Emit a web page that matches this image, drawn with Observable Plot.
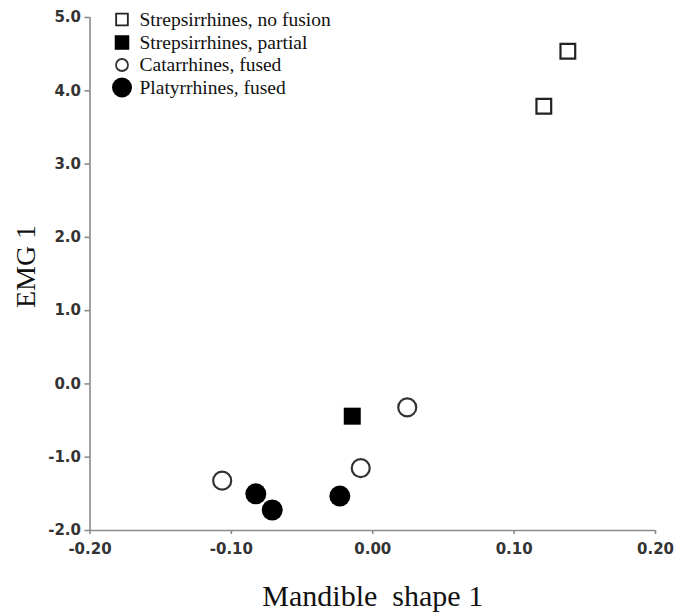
<!DOCTYPE html>
<html><head><meta charset="utf-8">
<script src="https://cdn.jsdelivr.net/npm/d3@7"></script>
<script src="https://cdn.jsdelivr.net/npm/@observablehq/plot@0.6"></script>
<style>
html,body{margin:0;padding:0;background:#fff;}
svg text{white-space:pre;}
</style>
</head><body><div id="chart"></div>
<script>
// ---- data ----
const groups = ["Strepsirrhines, no fusion", "Strepsirrhines, partial", "Catarrhines, fused", "Platyrrhines, fused"];
const mandibleShape = [0.138, 0.121, -0.0145, 0.0244, -0.0085, -0.1065, -0.0827, -0.0711, -0.0233];
const emg1 = [4.54, 3.79, -0.44, -0.32, -1.15, -1.32, -1.50, -1.72, -1.53];
const groupIndex = [0, 0, 1, 2, 2, 2, 3, 3, 3];
const xTicks = [-0.2, -0.1, 0, 0.1, 0.2];
const yTicks = [-2, -1, 0, 1, 2, 3, 4, 5];
const xTitle = "Mandible  shape 1";
const yTitle = "EMG 1";

// ---- styles ----
const dotStyle = [
  {symbol: "square", fill: "white", stroke: "#222", strokeWidth: 2.2, r: 8.3},
  {symbol: "square", fill: "black", stroke: "none", strokeWidth: 0, r: 9.6},
  {symbol: "circle", fill: "white", stroke: "#333", strokeWidth: 2.2, r: 9},
  {symbol: "circle", fill: "black", stroke: "none", strokeWidth: 0, r: 10.5}
];
const legendStyle = [
  {symbol: "square", fill: "white", stroke: "#222", strokeWidth: 1.8, r: 6.6},
  {symbol: "square", fill: "black", stroke: "none", strokeWidth: 0, r: 8.2},
  {symbol: "circle", fill: "white", stroke: "#333", strokeWidth: 1.8, r: 6},
  {symbol: "circle", fill: "black", stroke: "none", strokeWidth: 0, r: 10}
];
const legendRowY = [2, 25, 47.5, 70]; // offsets from frame top
const serif = "'Liberation Serif', 'Times New Roman', serif";
const sans = "'DejaVu Sans', Verdana, sans-serif";

const points = mandibleShape.map((x, i) => ({x, y: emg1[i], g: groupIndex[i]}));

const marks = [
  Plot.ruleY([-2], {stroke: "#8a8a8a", strokeWidth: 1.6}),
  Plot.ruleX([-0.2], {stroke: "#8a8a8a", strokeWidth: 1.6}),
  Plot.axisX(xTicks, {tickSize: 4, tickPadding: 9, tickFormat: d => d.toFixed(2), label: null,
    stroke: "#8a8a8a", strokeWidth: 1.6, fill: "#333", fontSize: 15, fontWeight: "bold", fontFamily: sans}),
  Plot.axisY(yTicks, {tickSize: 5, tickPadding: 4, tickFormat: d => d.toFixed(1), label: null,
    stroke: "#8a8a8a", strokeWidth: 1.6, fill: "#333", fontSize: 15, fontWeight: "bold", fontFamily: sans}),
  Plot.text([xTitle], {frameAnchor: "bottom", dy: 65.5, textAnchor: "middle", lineAnchor: "middle", fontFamily: serif, fontSize: 30, fill: "#111"}),
  Plot.text([yTitle], {frameAnchor: "left", rotate: -90, dx: -63.5, dy: -7.5, textAnchor: "middle", lineAnchor: "middle", fontFamily: serif, fontSize: 28, fill: "#111"})
];

dotStyle.forEach((s, gi) => {
  marks.push(Plot.dot(points.filter(p => p.g === gi), {x: "x", y: "y", symbol: s.symbol, r: s.r, fill: s.fill, stroke: s.stroke, strokeWidth: s.strokeWidth}));
});

groups.forEach((name, gi) => {
  const s = legendStyle[gi];
  marks.push(Plot.dot([name], {frameAnchor: "top-left", dx: 32, dy: legendRowY[gi], symbol: s.symbol, r: s.r, fill: s.fill, stroke: s.stroke, strokeWidth: s.strokeWidth}));
  marks.push(Plot.text([name], {frameAnchor: "top-left", dx: 49.5, dy: legendRowY[gi], textAnchor: "start", lineAnchor: "middle", fontFamily: serif, fontSize: 19.5, fill: "#111"}));
});

const chart = Plot.plot({
  width: 682,
  height: 614,
  marginLeft: 89.5,
  marginRight: 27,
  marginTop: 17,
  marginBottom: 84,
  x: {domain: [-0.2, 0.2]},
  y: {domain: [-2, 5]},
  style: {background: "white", overflow: "visible"},
  marks
});
document.getElementById("chart").appendChild(chart);
</script>
</body></html>
